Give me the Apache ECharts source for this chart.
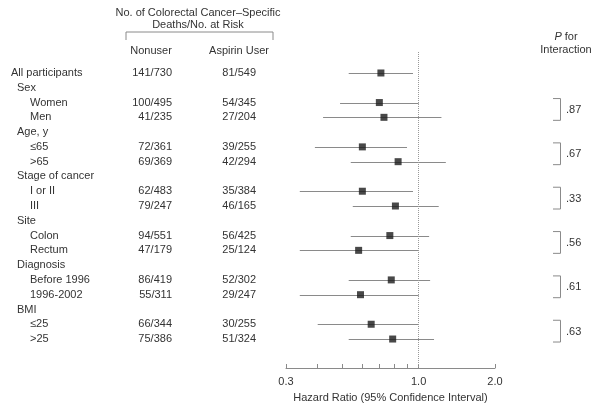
<!DOCTYPE html>
<html>
<head>
<meta charset="utf-8">
<script src="https://cdn.jsdelivr.net/npm/echarts@6/dist/echarts.min.js"></script>
<style>
  html, body { margin: 0; padding: 0; background: #fff; }
  #chart { width: 600px; height: 411px; }
</style>
</head>
<body>
<div id="chart"></div>
<script>
// rows of the table, top to bottom (level 0 = overall, 1 = group header, 2 = subgroup)
const rowLabels = ["All participants", "Sex", "Women", "Men", "Age, y", "≤65", ">65",
  "Stage of cancer", "I or II", "III", "Site", "Colon", "Rectum",
  "Diagnosis", "Before 1996", "1996-2002", "BMI", "≤25", ">25"];
const rowLevel = [0, 1, 2, 2, 1, 2, 2, 1, 2, 2, 1, 2, 2, 1, 2, 2, 1, 2, 2];
const nonuser = ["141/730", "", "100/495", "41/235", "", "72/361", "69/369", "", "62/483", "79/247",
  "", "94/551", "47/179", "", "86/419", "55/311", "", "66/344", "75/386"];
const aspirinUser = ["81/549", "", "54/345", "27/204", "", "39/255", "42/294", "", "35/384", "46/165",
  "", "56/425", "25/124", "", "52/302", "29/247", "", "30/255", "51/324"];
const hazardRatio = [0.71, null, 0.70, 0.73, null, 0.60, 0.83, null, 0.60, 0.81,
  null, 0.77, 0.58, null, 0.78, 0.59, null, 0.65, 0.79];
const ciLow = [0.53, null, 0.49, 0.42, null, 0.39, 0.54, null, 0.34, 0.55,
  null, 0.54, 0.34, null, 0.53, 0.34, null, 0.40, 0.53];
const ciHigh = [0.95, null, 1.00, 1.23, null, 0.90, 1.28, null, 0.95, 1.20,
  null, 1.10, 1.00, null, 1.11, 1.00, null, 1.00, 1.15];
const pRows = [[2, 3], [5, 6], [8, 9], [11, 12], [14, 15], [17, 18]];
const pValues = [".87", ".67", ".33", ".56", ".61", ".63"];
const xTicks = [0.3, 0.4, 0.5, 0.6, 0.7, 0.8, 0.9, 1.0, 2.0];
const xTickLabels = [0.3, 1.0, 2.0];

const FONT = "Liberation Sans, Arial, sans-serif";
const TXT = "#333";
const LINE = "#8a8a8a";

const chart = echarts.init(document.getElementById("chart"));

const forestRows = [];
const pointData = [];
hazardRatio.forEach(function (v, i) {
  if (v == null) return;
  forestRows.push([Math.log(ciLow[i]), Math.log(ciHigh[i]), i]);
  pointData.push([Math.log(v), i]);
});

const textEl = function (x, y, text, align) {
  return {
    type: "text", x: x, y: y,
    style: { text: text, fill: TXT, fontSize: 11, fontFamily: FONT, align: align || "left", verticalAlign: "middle" }
  };
};

const levelX = [11, 17, 30];

const option = {
  animation: false,
  grid: [
    { left: 286, width: 209, top: 52, height: 316 },
    { left: 0, width: 600, top: 52, height: 316 }
  ],
  xAxis: [
    {
      gridIndex: 0,
      type: "value",
      min: Math.log(0.3),
      max: Math.log(2.0),
      axisLine: { onZero: false, lineStyle: { color: LINE, width: 1 } },
      axisTick: { inside: true, length: 4, lineStyle: { color: LINE }, customValues: xTicks.map(Math.log) },
      axisLabel: {
        customValues: xTickLabels.map(Math.log),
        formatter: function (v) { return Math.exp(v).toFixed(1); },
        color: TXT, fontSize: 11, fontFamily: FONT, margin: 8
      },
      splitLine: { show: false },
      name: "Hazard Ratio (95% Confidence Interval)",
      nameLocation: "middle",
      nameGap: 24,
      nameTextStyle: { color: TXT, fontSize: 11, fontFamily: FONT }
    },
    { gridIndex: 1, type: "value", min: 0, max: 600, show: false }
  ],
  yAxis: [
    { gridIndex: 0, type: "value", inverse: true, min: -1.42, max: 19.96, show: false },
    { gridIndex: 1, type: "value", inverse: true, min: -1.42, max: 19.96, show: false }
  ],
  graphic: [
    textEl(198, 13, "No. of Colorectal Cancer–Specific", "center"),
    textEl(198, 25, "Deaths/No. at Risk", "center"),
    {
      type: "polyline",
      shape: { points: [[126, 40], [126, 32], [273, 32], [273, 40]] },
      style: { stroke: LINE, lineWidth: 1, fill: null }
    },
    textEl(151, 51, "Nonuser", "center"),
    textEl(239, 51, "Aspirin User", "center"),
    {
      type: "text", x: 566, y: 37,
      style: {
        text: "{i|P} for", fill: TXT, fontSize: 11, fontFamily: FONT, align: "center", verticalAlign: "middle",
        rich: { i: { fontStyle: "italic", fontSize: 11, fontFamily: FONT, fill: TXT } }
      }
    },
    textEl(566, 50, "Interaction", "center")
  ],
  series: [
    {
      // confidence intervals
      type: "custom",
      xAxisIndex: 0, yAxisIndex: 0,
      data: forestRows,
      renderItem: function (params, api) {
        const a = api.coord([api.value(0), api.value(2)]);
        const b = api.coord([api.value(1), api.value(2)]);
        return {
          type: "line",
          shape: { x1: a[0], y1: Math.round(a[1]) + 0.5, x2: b[0], y2: Math.round(b[1]) + 0.5 },
          style: { stroke: LINE, lineWidth: 1 }
        };
      },
      z: 2
    },
    {
      type: "scatter",
      xAxisIndex: 0, yAxisIndex: 0,
      data: pointData,
      symbol: "rect",
      symbolSize: 7,
      itemStyle: { color: "#1a1a1a" },
      z: 3,
      markLine: {
        silent: true,
        symbol: ["none", "none"],
        label: { show: false },
        lineStyle: { type: "dotted", color: "#999", width: 1 },
        data: [{ xAxis: 0 }]
      }
    },
    {
      // table text
      type: "custom",
      xAxisIndex: 1, yAxisIndex: 1,
      data: rowLabels.map(function (_, i) { return [i]; }),
      renderItem: function (params, api) {
        const i = params.dataIndex;
        const y = api.coord([0, i])[1];
        return {
          type: "group",
          children: [
            textEl(levelX[rowLevel[i]], y, rowLabels[i], "left"),
            textEl(172, y, nonuser[i], "right"),
            textEl(256, y, aspirinUser[i], "right")
          ]
        };
      }
    },
    {
      // P for interaction brackets
      type: "custom",
      xAxisIndex: 1, yAxisIndex: 1,
      data: pRows.map(function (r, k) { return [r[0], r[1], k]; }),
      renderItem: function (params, api) {
        const y1 = api.coord([0, api.value(0)])[1] - 4;
        const y2 = api.coord([0, api.value(1)])[1] + 3;
        const k = api.value(2);
        return {
          type: "group",
          children: [
            {
              type: "polyline",
              shape: { points: [[553, y1], [560.5, y1], [560.5, y2], [553, y2]] },
              style: { stroke: LINE, lineWidth: 1, fill: null }
            },
            textEl(566, (y1 + y2) / 2 + 0.5, pValues[k], "left")
          ]
        };
      }
    }
  ]
};

chart.setOption(option);
</script>
</body>
</html>
